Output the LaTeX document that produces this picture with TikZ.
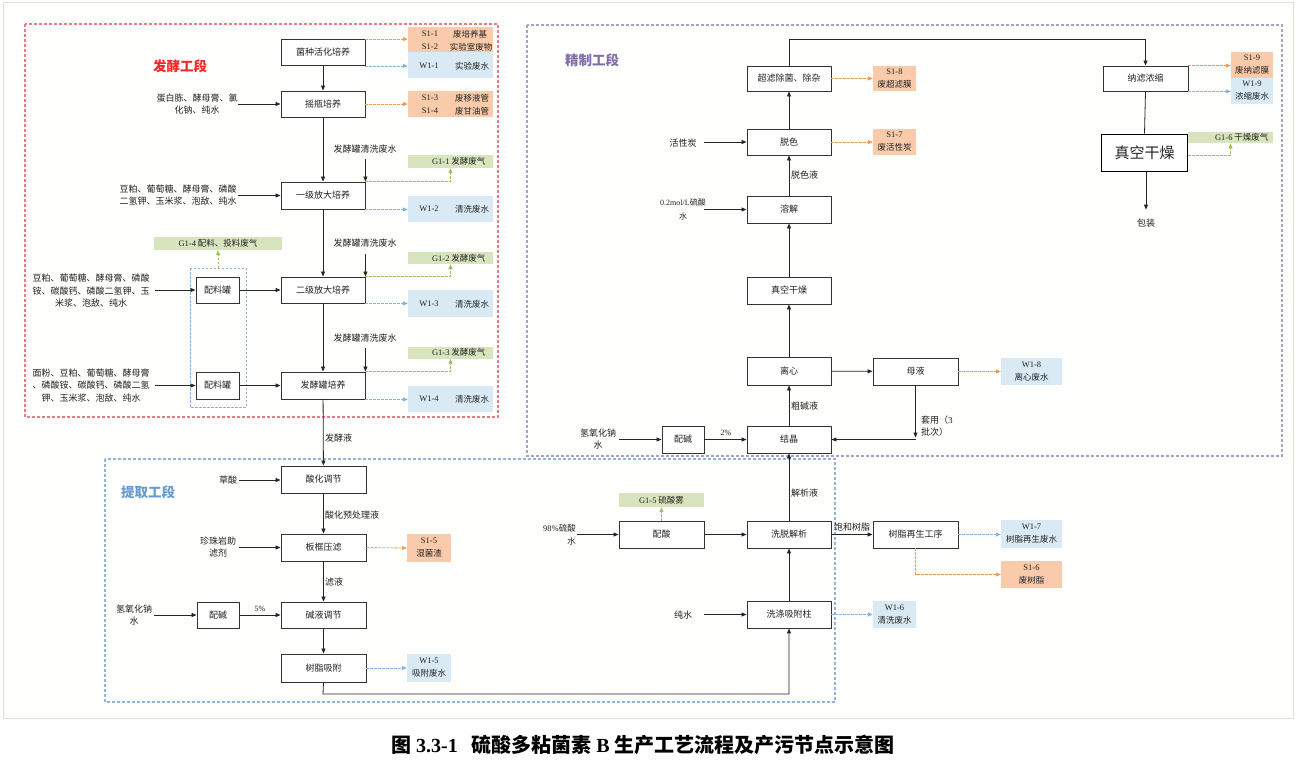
\documentclass[tikz,border=0pt]{standalone}
\usepackage{fontspec}
\setmainfont{Noto Sans CJK SC}
\newfontfamily\lat{Liberation Serif}
\newcommand\lx[1]{{\lat #1}}
\usetikzlibrary{arrows.meta}
\definecolor{txt}{HTML}{222222}
\definecolor{boxc}{HTML}{333333}
\definecolor{orgf}{HTML}{F9CBAA}
\definecolor{bluf}{HTML}{D9EAF4}
\definecolor{grnf}{HTML}{D8E4BE}
\definecolor{orgl}{HTML}{F29A4E}
\definecolor{blul}{HTML}{86B2E0}
\definecolor{grnl}{HTML}{9CBF5A}
\definecolor{redd}{HTML}{EE7A88}
\definecolor{blud}{HTML}{8FB6D9}
\definecolor{purd}{HTML}{A4A4C4}
\definecolor{framec}{HTML}{E4E0D0}
\begin{document}
\begin{tikzpicture}[x=1pt,y=-1pt,
  >={Triangle[length=5pt,width=4pt]},
  every node/.style={font=\fontsize{9}{12}\selectfont, text=txt},
  box/.style={draw=boxc, line width=0.9pt, fill=white, minimum width=84pt, minimum height=26pt, inner sep=1pt},
  sbox/.style={box, minimum width=42pt},
  obox/.style={fill=orgf, draw=none, inner sep=0pt, align=center, font=\fontsize{8.5}{13}\selectfont},
  bbox/.style={fill=bluf, draw=none, inner sep=0pt, align=center, font=\fontsize{8.5}{13}\selectfont},
  gbox/.style={fill=grnf, draw=none, inner sep=0pt},
  lbl/.style={align=center, inner sep=0pt},
  small/.style={font=\fontsize{8.5}{12}\selectfont},
  flow/.style={->, draw=black!85, line width=0.8pt},
  line/.style={draw=black!85, line width=0.8pt},
  dO/.style={->, draw=orgl, line width=0.8pt, dash pattern=on 2.5pt off 1.5pt},
  dB/.style={->, draw=blul, line width=0.8pt, dash pattern=on 2.5pt off 1.5pt},
  dG/.style={->, draw=grnl, line width=0.8pt, dash pattern=on 2.5pt off 1.5pt},
  sect/.style={line width=1.1pt, dash pattern=on 3pt off 2pt},
]
\useasboundingbox (0,0) rectangle (1309,772);
\fill[white] (0,0) rectangle (1309,772);
\draw[framec, line width=0.8pt, fill={rgb,255:red,254;green,254;blue,252}] (3,2) rectangle (1293,718);

% section frames
\draw[sect, redd] (25,24) rectangle (498,417);
\draw[sect, blud] (105,459) rectangle (835,702);
\draw[sect, purd] (527,25) rectangle (1282,456);
\draw[line width=0.9pt, blud, dash pattern=on 2.5pt off 1.5pt] (190,268) rectangle (246,407);

% titles
\node[font=\fontsize{13.5}{16}\selectfont\bfseries, text={rgb,255:red,240;green,40;blue,40}] (t1) at (180,66) {发酵工段};
\node[font=\fontsize{13.5}{16}\selectfont\bfseries, text={rgb,255:red,100;green,155;blue,210}] (t2) at (148,492) {提取工段};
\node[font=\fontsize{13.5}{16}\selectfont\bfseries, text={rgb,255:red,130;green,110;blue,170}] (t3) at (592,60) {精制工段};

% ---------- fermentation ----------
\node[box] (b1) at (323,52.5) {菌种活化培养};
\node[box] (b2) at (323,104) {摇瓶培养};
\node[box, minimum height=27pt] (b3) at (323,195.5) {一级放大培养};
\node[box] (b4) at (323,290) {二级放大培养};
\node[box, minimum height=27pt] (b5) at (323,385.5) {发酵罐培养};
\node[sbox, minimum width=43pt] (p1) at (217.5,290) {配料罐};
\node[sbox, minimum width=43pt, minimum height=27pt] (p2) at (217.5,385.5) {配料罐};

\node[obox, minimum width=85pt, minimum height=25pt] (o1) at (450.5,39.5) {};
\node[bbox, minimum width=85pt, minimum height=26pt] (o2) at (450.5,65) {};
\node[obox, minimum width=85pt, minimum height=26pt] (o3) at (450.5,104) {};
\node[gbox, minimum width=85pt, minimum height=13pt] (g1) at (450.5,161.5) {};
\node[bbox, minimum width=85pt, minimum height=26pt] (o4) at (450.5,209) {};
\node[gbox, minimum width=85pt, minimum height=12pt] (g2) at (450.5,258) {};
\node[bbox, minimum width=85pt, minimum height=27pt] (o5) at (450.5,303.5) {};
\node[gbox, minimum width=85pt, minimum height=12pt] (g3) at (450.5,352.5) {};
\node[bbox, minimum width=85pt, minimum height=26pt] (o6) at (450.5,399) {};
\node[gbox, minimum width=128pt, minimum height=13pt] (g4) at (218,243.5) {};

\node[small] (o1a) at (430,34) {\lx{S1-1}};
\node[small] (o1b) at (470,34) {废培养基};
\node[small] (o1c) at (430,47) {\lx{S1-2}};
\node[small] (o1d) at (471,47) {实验室废物};
\node[small] (o2a) at (429,66) {\lx{W1-1}};
\node[small] (o2b) at (472,66) {实验废水};
\node[small] (o3a) at (430,98) {\lx{S1-3}};
\node[small] (o3b) at (472,98) {废移液管};
\node[small] (o3c) at (430,111) {\lx{S1-4}};
\node[small] (o3d) at (472,111) {废甘油管};
\node[small, anchor=east] (g1a) at (489,161.5) {\lx{G1-1} 发酵废气};
\node[small] (o4a) at (429,209) {\lx{W1-2}};
\node[small] (o4b) at (472,209) {清洗废水};
\node[small, anchor=east] (g2a) at (489,258) {\lx{G1-2} 发酵废气};
\node[small] (o5a) at (429,304) {\lx{W1-3}};
\node[small] (o5b) at (472,304) {清洗废水};
\node[small, anchor=east] (g3a) at (489,352.5) {\lx{G1-3} 发酵废气};
\node[small] (o6a) at (429,399) {\lx{W1-4}};
\node[small] (o6b) at (472,399) {清洗废水};
\node[small] (g4a) at (218,243.5) {\lx{G1-4} 配料、投料废气};

% inputs
\node[lbl] (i1) at (197,104.5) {蛋白胨、酵母膏、氯\\化钠、纯水};
\node[lbl] (i2) at (178,195) {豆粕、葡萄糖、酵母膏、磷酸\\二氢钾、玉米浆、泡敌、纯水};
\node[lbl, font=\fontsize{9}{12.5}\selectfont] (i3) at (91,291) {豆粕、葡萄糖、酵母膏、磷酸\\铵、碳酸钙、磷酸二氢钾、玉\\米浆、泡敌、纯水};
\node[lbl, font=\fontsize{9}{12.5}\selectfont] (i4) at (91,385.5) {面粉、豆粕、葡萄糖、酵母膏\\、磷酸铵、碳酸钙、磷酸二氢\\钾、玉米浆、泡敌、纯水};
\coordinate (i1e) at (238,104);
\coordinate (i2e) at (238,195.5);
\coordinate (i3e) at (155,290);
\coordinate (i4e) at (155,385.5);
\draw[flow] (i1e) -- (b2.west |- i1e);
\draw[flow] (i2e) -- (b3.west |- i2e);
\draw[flow] (i3e) -- (p1.west |- i3e);
\draw[flow] (i4e) -- (p2.west |- i4e);
\draw[flow] (p1) -- (b4);
\draw[flow] (p2) -- (b5);

\draw[flow] (b1) -- (b2);
\draw[flow] (b2) -- (b3);
\draw[flow] (b3) -- (b4);
\draw[flow] (b4) -- (b5);

\node[lbl] (w1) at (365,149) {发酵罐清洗废水};
\node[lbl] (w2) at (365,243.5) {发酵罐清洗废水};
\node[lbl] (w3) at (365,338) {发酵罐清洗废水};
\draw[flow] ([yshift=-6pt]w1.south -| b3.north east) -- (b3.north east);
\draw[flow] ([yshift=-6pt]w2.south -| b4.north east) -- (b4.north east);
\draw[flow] ([yshift=-6pt]w3.south -| b5.north east) -- (b5.north east);

\draw[dO] (b1.north east) -- (o1.west |- b1.north east);
\draw[dB] (b1.south east) -- (o2.west |- b1.south east);
\draw[dO] (b2.east) -- (o3.west);
\draw[dG] (b3.north east) -- (g1.south |- b3.north east) -- (g1.south);
\draw[dB] (b3.south east) -- (o4.west |- b3.south east);
\draw[dG] (b4.north east) -- (g2.south |- b4.north east) -- (g2.south);
\draw[dB] (b4.south east) -- (o5.west |- b4.south east);
\draw[dG] (b5.north east) -- (g3.south |- b5.north east) -- (g3.south);
\draw[dB] (b5.south east) -- (o6.west |- b5.south east);
\coordinate (pt) at (218,268);
\draw[dG] (pt) -- (g4.south);

% ---------- extraction ----------
\node[box, minimum width=85pt, minimum height=27pt] (e1) at (323.5,479.5) {酸化调节};
\node[box, minimum width=85pt, minimum height=27pt] (e2) at (323.5,547.5) {板框压滤};
\node[box, minimum width=85pt] (e3) at (323.5,615) {碱液调节};
\node[box, minimum width=85pt, minimum height=28pt] (e4) at (323.5,668) {树脂吸附};
\node[sbox] (e5) at (218,615) {配碱};
\node[obox, minimum width=44pt, minimum height=28pt] (s15) at (429,548) {\lx{S1-5}\\湿菌渣};
\node[bbox, minimum width=44pt, minimum height=28pt] (w15) at (429,668) {\lx{W1-5}\\吸附废水};

\draw[flow] (b5) -- (e1);
\node[lbl, anchor=west] (fjy) at (325,438) {发酵液};
\node[lbl] (cs) at (228,480) {草酸};
\draw[flow] (cs.east -| 239,0) -- (e1.west |- cs.east);
\draw[flow] (e1) -- (e2);
\node[lbl, anchor=west] (shy) at (325,515) {酸化预处理液};
\node[lbl] (zz) at (218,547) {珍珠岩助\\滤剂};
\coordinate (zze) at (239,547.5);
\draw[flow] (zze) -- (e2.west);
\draw[dO] (e2.east) -- (s15.west);
\draw[flow] (e2) -- (e3);
\node[lbl, anchor=west] (ly) at (325,582) {滤液};
\node[lbl] (naoh1) at (134,615) {氢氧化钠\\水};
\coordinate (naoh1e) at (154,615);
\draw[flow] (naoh1e) -- (e5.west);
\draw[flow] (e5) -- (e3);
\node[lbl, font=\fontsize{8}{10}\selectfont] (p5) at (260,609) {\lx{5\%}};
\draw[flow] (e3) -- (e4);
\draw[dB] (e4.east) -- (w15.west);

% ---------- middle lower ----------
\node[box, minimum height=27pt] (x1) at (789,614.5) {洗涤吸附柱};
\node[box, minimum height=27pt] (x2) at (789,534.5) {洗脱解析};
\node[box, minimum width=85pt, minimum height=27pt] (x3) at (661.5,534.5) {配酸};
\node[gbox, minimum width=85pt, minimum height=14pt] (g5) at (661.5,500) {};
\node[small] (g5a) at (661.5,500) {\lx{G1-5} 硫酸雾};
\node[bbox, minimum width=43pt, minimum height=27pt] (w16) at (894.5,614.5) {\lx{W1-6}\\清洗废水};
\node[box, minimum width=85pt, minimum height=27pt] (rg) at (915.5,534.5) {树脂再生工序};
\node[bbox, minimum width=61pt, minimum height=28pt] (w17) at (1031.5,534) {\lx{W1-7}\\树脂再生废水};
\node[obox, minimum width=61pt, minimum height=27pt] (s16) at (1031.5,574.5) {\lx{S1-6}\\废树脂};

\coordinate (k1) at (323,694);
\coordinate (k2) at (789,694);
\draw[flow] (e4.south) -- (k1) -- (k2) -- (x1.south);
\node[lbl, align=right, anchor=east, font=\fontsize{8.5}{13}\selectfont] (h98) at (576,535) {\lx{98\%}硫酸\\水};
\coordinate (h98e) at (577,534.5);
\draw[flow] (h98e) -- (x3.west);
\draw[dG] (x3.north) -- (g5.south);
\draw[flow] (x3) -- (x2);
\node[lbl] (cs2) at (683,615) {纯水};
\coordinate (cs2e) at (704,614.5);
\draw[flow] (cs2e) -- (x1.west);
\draw[dB] (x1.east) -- (w16.west);
\draw[flow] (x1) -- (x2);
\node[lbl] (bhsz) at (852,527) {饱和树脂};
\draw[flow] (x2) -- (rg);
\draw[dB] (rg.east) -- (w17.west |- rg.east);
\draw[dO] (rg.south) |- (s16.west);

% ---------- refining ----------
\node[box, minimum height=27pt] (c1) at (789,439.5) {结晶};
\node[box, minimum height=28pt] (c2) at (789,371) {离心};
\node[box, minimum height=27pt] (c3) at (789,290.5) {真空干燥};
\node[box, minimum height=27pt] (c4) at (789,209.5) {溶解};
\node[box] (c5) at (789,142) {脱色};
\node[box, minimum height=25pt] (c6) at (789,78.5) {超滤除菌、除杂};
\node[sbox, minimum height=27pt] (c7) at (683,439.5) {配碱};
\node[box, minimum width=85pt, minimum height=27pt] (c8) at (915.5,371.5) {母液};
\node[bbox, minimum width=61pt, minimum height=27pt] (w18) at (1031.5,371.5) {\lx{W1-8}\\离心废水};
\node[obox, minimum width=43pt, minimum height=25pt] (s18) at (894.5,78.5) {\lx{S1-8}\\废超滤膜};
\node[obox, minimum width=43pt, minimum height=26pt] (s17) at (894.5,142) {\lx{S1-7}\\废活性炭};

\draw[flow] (x2) -- (c1);
\node[lbl, anchor=west] (jxy) at (791,493) {解析液};
\draw[flow] (c1) -- (c2);
\node[lbl, anchor=west] (cjy) at (791,406) {粗碱液};
\draw[flow] (c2) -- (c8);
\draw[dO] (c8.east) -- (w18.west);
\coordinate (m1) at (915.5,439.5);
\draw[flow] (c8.south) -- ([yshift=2pt]m1);
\draw[flow] (m1) -- (c1.east);
\node[lbl, align=left, anchor=west] (ty) at (921,426) {套用（\lx{3}\\批次）};
\node[lbl] (naoh2) at (598,439) {氢氧化钠\\水};
\coordinate (naoh2e) at (619,439.5);
\draw[flow] (naoh2e) -- (c7.west);
\draw[flow] (c7) -- (c1);
\node[lbl, font=\fontsize{8}{10}\selectfont] (p2pct) at (726,433) {\lx{2\%}};
\draw[flow] (c2) -- (c3);
\draw[flow] (c3) -- (c4);
\node[lbl, font=\fontsize{8}{14}\selectfont] (hs) at (683,209.5) {\lx{0.2mol/L}硫酸\\水};
\coordinate (hse) at (704,209.5);
\draw[flow] (hse) -- (c4.west);
\draw[flow] (c4) -- (c5);
\node[lbl, anchor=west] (tsy) at (791,175) {脱色液};
\node[lbl] (hxt) at (683,143) {活性炭};
\coordinate (hxte) at (704,142);
\draw[flow] (hxte) -- (c5.west);
\draw[dO] (c5.east) -- (s17.west);
\draw[flow] (c5) -- (c6);
\draw[dO] (c6.east) -- (s18.west);

\node[box, minimum width=85pt, minimum height=25pt] (n1) at (1145.5,78.5) {纳滤浓缩};
\node[obox, minimum width=42pt, minimum height=26pt] (s19) at (1252,65) {\lx{S1-9}\\废纳滤膜};
\node[bbox, minimum width=42pt, minimum height=26pt] (w19) at (1252,91) {\lx{W1-9}\\浓缩废水};
\coordinate (u1) at (789,39);
\coordinate (u2) at (1145.5,39);
\draw[flow] (c6.north) -- (u1) -- (u2) -- (n1.north);
\draw[dO] (n1.north east) -- (s19.west |- n1.north east);
\draw[dB] (n1.south east) -- (w19.west |- n1.south east);

\node[draw=black, line width=1.8pt, fill=white, minimum width=86pt, minimum height=37pt, font=\fontsize{15}{18}\selectfont] (v1) at (1144.5,153) {真空干燥};
\draw[line] (n1.south) -- (v1.north);
\node[gbox, minimum width=85pt, minimum height=11.5pt] (g6) at (1230.5,137.5) {};
\node[small, anchor=east] (g6a) at (1272,137.5) {\lx{G1-6} 干燥废气};
\coordinate (v1e) at (1188,155);
\draw[dG] (v1e) -- (g6.south |- v1e) -- (g6.south);
\node[lbl] (pk) at (1146,223) {包装};
\draw[flow] (v1.south -| pk.north) -- ([yshift=9pt]pk.north);

% caption
\node[font=\fontsize{20}{23}\selectfont\bfseries, text=black] (cap) at (643,745) {图 \lx{3.3-1}\hspace{0.7em}硫酸多粘菌素 \lx{B} 生产工艺流程及产污节点示意图};
\end{tikzpicture}
\end{document}
